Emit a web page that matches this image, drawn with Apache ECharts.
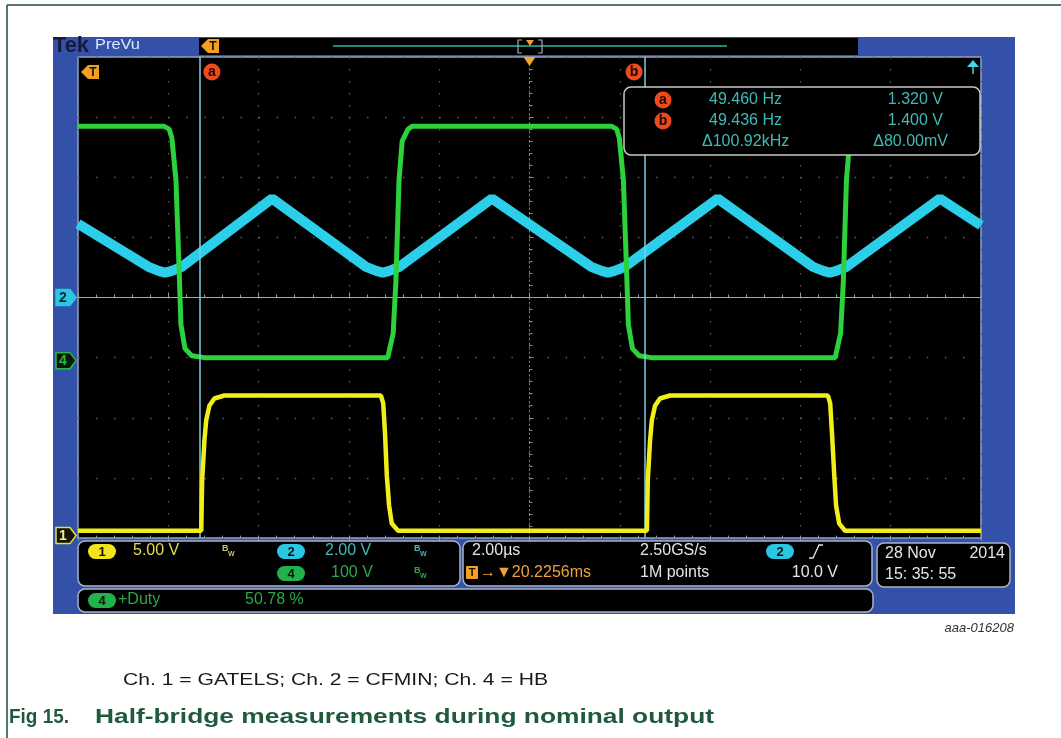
<!DOCTYPE html>
<html>
<head>
<meta charset="utf-8">
<script src="https://cdn.jsdelivr.net/npm/echarts@6/dist/echarts.min.js"></script>
<style>
html,body{margin:0;padding:0;background:#fff;}
#c{width:1061px;height:738px;}
</style>
</head>
<body>
<div id="c"></div>
<script>
// ---------------- data (time in microseconds, values in volts) ----------------
const ch1Time  = [-10, -7.27, -7.25, -7.20, -7.16, -7.09, -6.98, -6.76, -3.29, -3.24, -3.20, -3.16, -3.11, -3.05, -2.91, 2.60, 2.62, 2.67, 2.71, 2.78, 2.89, 3.11, 6.61, 6.66, 6.70, 6.75, 6.79, 6.86, 6.99, 10];
const ch1Volts = [0.4, 0.4, 4.6, 7.9, 9.6, 10.8, 11.4, 11.65, 11.65, 11.0, 8.5, 5.0, 2.5, 1.0, 0.4, 0.4, 4.6, 7.9, 9.6, 10.8, 11.4, 11.65, 11.65, 11.0, 8.5, 5.0, 2.5, 1.0, 0.4, 0.4];

const ch2Time  = [-10, -8.44, -8.20, -8.07, -7.94, -7.70, -5.70, -3.62, -3.38, -3.25, -3.12, -2.88, -0.83, 1.37, 1.61, 1.74, 1.87, 2.11, 4.17, 6.28, 6.52, 6.65, 6.78, 7.02, 9.09, 10];
const ch2Volts = [2.45, 1.02, 0.88, 0.83, 0.88, 1.02, 3.29, 1.02, 0.88, 0.83, 0.88, 1.02, 3.29, 1.02, 0.88, 0.83, 0.88, 1.02, 3.29, 1.02, 0.88, 0.83, 0.88, 1.02, 3.29, 2.40];

const ch4Time  = [-10, -8.10, -7.98, -7.92, -7.83, -7.76, -7.72, -7.63, -7.48, -7.20, -3.14, -3.02, -2.96, -2.89, -2.82, -2.69, -2.60, 1.81, 1.93, 1.99, 2.08, 2.15, 2.19, 2.28, 2.43, 2.70, 6.77, 6.89, 6.95, 7.02, 7.09, 7.22, 7.31, 10];
const ch4Volts = [390, 390, 385, 370, 300, 150, 60, 20, 8, 5, 5, 45, 130, 300, 365, 385, 390, 390, 385, 370, 300, 150, 60, 20, 8, 5, 5, 45, 130, 300, 365, 385, 390, 390];

// scope settings
const timeRange = [-10, 10];          // 2.00 us/div, 10 divisions
const voltsPerDiv = [5, 2, 100];      // Ch1, Ch2, Ch4
const groundDiv = [-3.96, 0, -1.05];  // ground marker position in divisions
const cursorA = -7.30, cursorB = 2.56;

// measurement / readout texts
const measRows = [
  ['a', '49.460 Hz', '1.320 V'],
  ['b', '49.436 Hz', '1.400 V'],
  ['', '\u0394100.92kHz', '\u039480.00mV']
];

function zip(t, v){ return t.map((x,i)=>[x, v[i]]); }
function axisRange(k){ return { min: (-4 - groundDiv[k]) * voltsPerDiv[k], max: (4 - groundDiv[k]) * voltsPerDiv[k] }; }

const chart = echarts.init(document.getElementById('c'), null, {renderer:'canvas'});
const FONT = 'Liberation Sans, Arial, sans-serif';

const option = {
  animation: false,
  backgroundColor: '#ffffff',
  grid: { left: 78, top: 57, width: 903, height: 481, show: true, backgroundColor: '#000000', borderColor: '#93a3be', borderWidth: 1.5 },
  xAxis: [
    { type: 'value', min: timeRange[0], max: timeRange[1], interval: 2, position: 'bottom',
      axisLine: { onZero: true, onZeroAxisIndex: 0, lineStyle: { color: '#a8a8a8', width: 1.2 } },
      axisTick: { show: true, inside: true, length: 5, lineStyle: { color: '#9a9a9a' } },
      minorTick: { show: true, splitNumber: 5, length: 3, lineStyle: { color: '#9a9a9a' } },
      axisLabel: { show: false },
      splitLine: { show: true, lineStyle: { color: '#5c5c5c', width: 1.3, type: [1.5, 10.5] } } },
    { type: 'value', min: timeRange[0], max: timeRange[1], interval: 2, position: 'top',
      axisLine: { show: false },
      axisTick: { show: true, inside: true, length: 5, lineStyle: { color: '#8d9bb3' } },
      minorTick: { show: true, splitNumber: 5, length: 3, lineStyle: { color: '#8d9bb3' } },
      axisLabel: { show: false }, splitLine: { show: false } }
  ],
  yAxis: [
    { type: 'value', min: -4, max: 4, interval: 1, position: 'left',
      axisLine: { onZero: true, lineStyle: { color: '#7a7a7a', type: [1.5, 3] } },
      axisTick: { show: true, inside: true, length: 4, lineStyle: { color: '#8a8a8a' } },
      minorTick: { show: true, splitNumber: 5, length: 3, lineStyle: { color: '#8a8a8a' } },
      axisLabel: { show: false },
      splitLine: { show: true, lineStyle: { color: '#5c5c5c', width: 1.3, type: [1.5, 16.56] } } },
    Object.assign({ type: 'value', show: false }, axisRange(0)),
    Object.assign({ type: 'value', show: false }, axisRange(1)),
    Object.assign({ type: 'value', show: false }, axisRange(2))
  ],
  series: [
    { type: 'line', name: 'Ch2 CFMIN', xAxisIndex: 0, yAxisIndex: 2, data: zip(ch2Time, ch2Volts),
      showSymbol: false, lineStyle: { color: '#2ccfea', width: 10 }, z: 3 },
    { type: 'line', name: 'Ch4 HB', xAxisIndex: 0, yAxisIndex: 3, data: zip(ch4Time, ch4Volts),
      showSymbol: false, lineStyle: { color: '#2bd23c', width: 5 }, z: 4 },
    { type: 'line', name: 'Ch1 GATELS', xAxisIndex: 0, yAxisIndex: 1, data: zip(ch1Time, ch1Volts),
      showSymbol: false, lineStyle: { color: '#f2ee1a', width: 4.5 }, z: 5,
      markLine: { silent: true, symbol: ['none', 'none'], label: { show: false },
        lineStyle: { color: '#7ccbe6', width: 1.5, type: 'solid' },
        data: [{ xAxis: cursorA }, { xAxis: cursorB }] } }
  ]
};
chart.setOption(option);

// --------------- decorations (scope bezel, readouts) ---------------
const xa = chart.convertToPixel({ xAxisIndex: 0 }, cursorA);
const xb = chart.convertToPixel({ xAxisIndex: 0 }, cursorB);
const xTrig = chart.convertToPixel({ xAxisIndex: 0 }, 0);
const gY = [1, 2, 3].map(k => chart.convertToPixel({ yAxisIndex: k }, 0));

const measureCtx = document.createElement('canvas').getContext('2d');
function fitScale(text, font, width){ measureCtx.font = font; return width / measureCtx.measureText(text).width; }

function T(x, y, text, color, size, extra){
  extra = extra || {};
  const font = (extra.style || '') + ' ' + (extra.weight || 'normal') + ' ' + size + 'px ' + (extra.family || FONT);
  const el = { type: 'text', x: x, y: y, z: 60,
    style: { text: text, fill: color, font: font, align: extra.align || 'left', verticalAlign: 'middle',
      textAlign: extra.align || 'left', textVerticalAlign: 'middle' } };
  if (extra.width) el.scaleX = fitScale(text, font, extra.width);
  return el;
}
function R(x, y, w, h, fill, r, stroke, lw, z){
  return { type: 'rect', z: z === undefined ? 55 : z, shape: { x: x, y: y, width: w, height: h, r: r || 0 },
    style: { fill: fill, stroke: stroke || null, lineWidth: lw || 0 } };
}
function pill(x, y, fill, label){
  return [R(x, y, 28, 15, fill, 7.5, null, 0, 58), T(x + 14, y + 8, label, '#111', 13, { align: 'center', weight: 'bold' })];
}
function bw(x, y, color){
  return [T(x, y - 2, 'B', color, 9, { weight: 'bold' }), T(x + 6, y + 3, 'W', color, 7, { weight: 'bold' })];
}
function cursorTag(cx, cy, letter){
  return [{ type: 'circle', z: 58, shape: { cx: cx, cy: cy, r: 8.5 }, style: { fill: '#ee4a1e' } },
          T(cx, cy + 0.5, letter, '#1a0800', 14, { align: 'center', weight: 'bold' })];
}
function badge(y, fill, stroke, textColor, label){
  return [{ type: 'polygon', z: 58, shape: { points: [[56, y - 8], [70, y - 8], [76, y], [70, y + 8], [56, y + 8]] },
            style: { fill: fill, stroke: stroke, lineWidth: 1.5 } },
          T(63, y + 0.5, label, textColor, 14, { align: 'center', weight: 'bold' })];
}
function tFlag(x, y){
  return [{ type: 'polygon', z: 58, shape: { points: [[x - 7, y], [x, y - 7], [x + 11, y - 7], [x + 11, y + 7], [x, y + 7]] },
            style: { fill: '#f3a020' } },
          T(x + 5, y + 0.5, 'T', '#1a1000', 12, { align: 'center', weight: 'bold' })];
}

const txt = '#e4e4e4', teal = '#3fbab6', grn = '#2aa84a', yel = '#e6dc4e', org = '#f0a238';
let g = [];
// page frame
g.push({ type: 'line', z: 70, shape: { x1: 7, y1: 5, x2: 1061, y2: 5 }, style: { stroke: '#1d4d3c', lineWidth: 1.5 } });
g.push({ type: 'line', z: 70, shape: { x1: 7, y1: 5, x2: 7, y2: 738 }, style: { stroke: '#1d4d3c', lineWidth: 1.5 } });
// bezel
g.push(R(53, 37, 962, 577, '#3351a8', 0, null, 0, -10));
// top record bar
g.push(R(199, 38, 659, 17, '#000', 0, null, 0, 50));
g.push({ type: 'line', z: 56, shape: { x1: 333, y1: 46, x2: 727, y2: 46 }, style: { stroke: '#2bb8a2', lineWidth: 1.5 } });
g.push({ type: 'polyline', z: 56, shape: { points: [[522, 40], [518, 40], [518, 53], [522, 53]] }, style: { stroke: '#aab', lineWidth: 1.2, fill: null } });
g.push({ type: 'polyline', z: 56, shape: { points: [[538, 40], [542, 40], [542, 53], [538, 53]] }, style: { stroke: '#aab', lineWidth: 1.2, fill: null } });
g.push({ type: 'polygon', z: 57, shape: { points: [[526, 40], [534, 40], [530, 46]] }, style: { fill: '#f3a020' } });
g = g.concat(tFlag(208, 46));
// Tek logo
g.push(T(53, 46, 'Tek', '#161a3c', 22, { weight: 'bold', width: 36 }));
g.push(T(95, 45, 'PreVu', '#dfe8ff', 15, { width: 45 }));
// graticule markers
g = g.concat(tFlag(88, 72));
g.push({ type: 'polygon', z: 57, shape: { points: [[xTrig - 6, 57], [xTrig + 6, 57], [xTrig, 66]] }, style: { fill: '#f5a623' } });
g.push({ type: 'polygon', z: 57, shape: { points: [[967, 67], [979, 67], [973, 60]] }, style: { fill: '#3fd8e8' } });
g.push({ type: 'line', z: 57, shape: { x1: 973, y1: 66, x2: 973, y2: 74 }, style: { stroke: '#3fd8e8', lineWidth: 1.5 } });
g = g.concat(cursorTag(xa + 12, 72, 'a'), cursorTag(xb - 11, 72, 'b'));
// channel ground badges
g = g.concat(badge(gY[1], '#2ac6e2', '#2ac6e2', '#0a2a30', '2'));
g = g.concat(badge(gY[2], '#0a1a0a', '#2ab84a', '#2ab84a', '4'));
g = g.concat(badge(gY[0], '#141400', '#e8e040', '#f0ee90', '1'));
// measurement box
g.push(R(624, 87, 356, 68, '#000', 7, '#c8c8c8', 1.5, 55));
const rowY = [100, 121, 142];
measRows.forEach((r, i) => {
  if (r[0]) g = g.concat(cursorTag(663, rowY[i], r[0]));
  g.push(T(i === 2 ? 702 : 709, rowY[i], r[1], teal, 16));
  g.push(T(i === 2 ? 948 : 943, rowY[i], r[2], teal, 16, { align: 'right' }));
});
// bottom readout panels
g.push(R(78, 541, 382, 45, '#000', 7, '#a9b3c8', 1.5, 55));
g.push(R(463, 541, 409, 45, '#000', 7, '#a9b3c8', 1.5, 55));
g.push(R(877, 543, 133, 44, '#000', 7, '#a9b3c8', 1.5, 55));
g.push(R(78, 589, 795, 23, '#000', 7, '#a9b3c8', 1.5, 55));
g = g.concat(pill(88, 544, '#f4e41c', '1'));
g.push(T(133, 551, '5.00 V', yel, 16));
g = g.concat(bw(222, 551, '#c8c060'));
g = g.concat(pill(277, 544, '#2ac6e2', '2'));
g.push(T(325, 551, '2.00 V', teal, 16));
g = g.concat(bw(414, 551, teal));
g = g.concat(pill(277, 566, '#22b24c', '4'));
g.push(T(331, 573, '100 V', grn, 16));
g = g.concat(bw(414, 573, grn));
g.push(T(472, 551, '2.00\u00b5s', txt, 16));
g.push(R(466, 566, 12, 13, '#f3a020', 1, null, 0, 58));
g.push(T(472, 573, 'T', '#1a1000', 11, { align: 'center', weight: 'bold' }));
g.push(T(480, 573, '\u2192\u25bc20.2256ms', org, 16));
g.push(T(640, 551, '2.50GS/s', txt, 16));
g.push(T(640, 573, '1M points', txt, 16));
g = g.concat(pill(766, 544, '#2ac6e2', '2'));
g.push({ type: 'polyline', z: 58, shape: { points: [[809, 558], [813, 558], [819, 545], [823, 545]] }, style: { stroke: '#e4e4e4', lineWidth: 1.3, fill: null } });
g.push(T(838, 573, '10.0 V', txt, 16, { align: 'right' }));
g.push(T(885, 554, '28 Nov', txt, 16));
g.push(T(1005, 554, '2014', txt, 16, { align: 'right' }));
g.push(T(885, 575, '15: 35: 55', txt, 16));
g = g.concat(pill(88, 593, '#22b24c', '4'));
g.push(T(118, 600, '+Duty', grn, 16));
g.push(T(245, 600, '50.78 %', grn, 16));
// captions
g.push(T(1014, 628, 'aaa-016208', '#333', 13, { align: 'right', style: 'italic' }));
g.push(T(123, 680, 'Ch. 1 = GATELS; Ch. 2 = CFMIN; Ch. 4 = HB', '#1a1a1a', 17, { width: 425 }));
g.push(T(9, 717, 'Fig 15.', '#1f5a3d', 21, { weight: 'bold', width: 60 }));
g.push(T(95, 717, 'Half-bridge measurements during nominal output', '#1f5a3d', 21, { weight: 'bold', width: 619 }));

chart.setOption({ graphic: { elements: g } });
</script>
</body>
</html>
